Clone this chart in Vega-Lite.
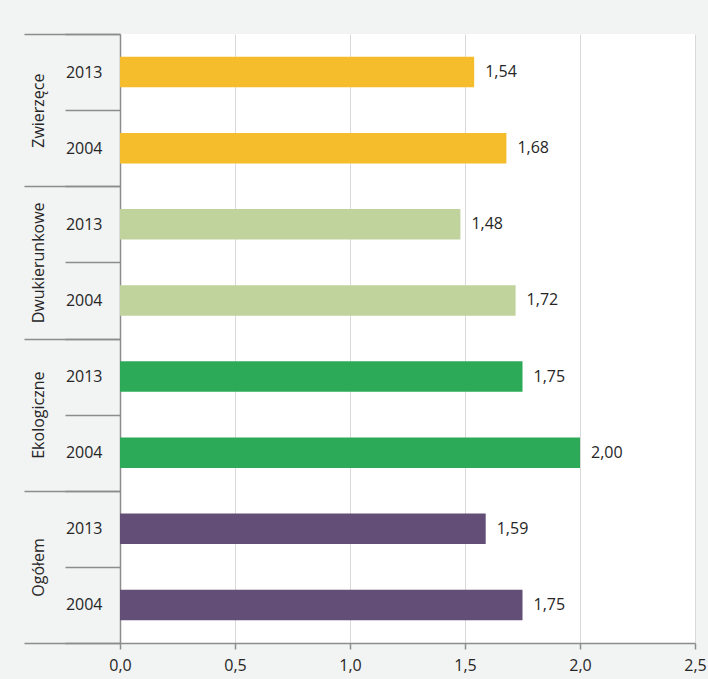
{
  "$schema": "https://vega.github.io/schema/vega-lite/v6.json",
  "width": 575,
  "height": 609,
  "autosize": {"type": "none"},
  "padding": {"left": 120, "top": 34, "right": 13, "bottom": 36},
  "background": "#f2f3f3",
  "config": {
    "locale": {"number": {"decimal": ",", "thousands": " ", "grouping": [3], "currency": ["", " zł"]}},
    "view": {"stroke": null, "fill": "#ffffff"},
    "font": "Open Sans",
    "axis": {"labelFont": "Open Sans", "labelFontSize": 16, "labelColor": "#262626", "title": null}
  },
  "data": {
    "values": [
      {"group": "Zwierzęce", "row": "Zwierzęce 2013", "value": 1.54},
      {"group": "Zwierzęce", "row": "Zwierzęce 2004", "value": 1.68},
      {"group": "Dwukierunkowe", "row": "Dwukierunkowe 2013", "value": 1.48},
      {"group": "Dwukierunkowe", "row": "Dwukierunkowe 2004", "value": 1.72},
      {"group": "Ekologiczne", "row": "Ekologiczne 2013", "value": 1.75},
      {"group": "Ekologiczne", "row": "Ekologiczne 2004", "value": 2.0},
      {"group": "Ogółem", "row": "Ogółem 2013", "value": 1.59},
      {"group": "Ogółem", "row": "Ogółem 2004", "value": 1.75}
    ]
  },
  "layer": [
    {
      "mark": {"type": "bar", "opacity": 0},
      "encoding": {
        "y": {
          "field": "group", "type": "nominal", "sort": null,
          "scale": {"type": "band", "paddingInner": 0, "paddingOuter": 0},
          "axis": {
            "orient": "left", "title": null, "tickBand": "extent", "tickSize": 96,
            "tickColor": "#8c8c8c", "tickWidth": 1.5, "domain": false, "grid": false,
            "labelAngle": -90, "labelAlign": "center", "labelBaseline": "alphabetic",
            "labelPadding": -19, "labelFontSize": 16, "labelColor": "#262626"
          }
        }
      }
    },
    {
      "layer": [
        {
          "mark": {"type": "bar", "height": {"band": 0.4}},
          "encoding": {
            "y": {
              "field": "row", "type": "nominal", "sort": null,
              "scale": {"type": "band", "paddingInner": 0, "paddingOuter": 0},
              "axis": {
                "orient": "left", "title": null, "tickBand": "extent", "tickSize": 55,
                "tickColor": "#8c8c8c", "tickWidth": 1.5, "domain": true,
                "domainColor": "#8c8c8c", "domainWidth": 1.5, "grid": false,
                "labelPadding": -37, "labelExpr": "slice(datum.label, -4)",
                "labelFontSize": 16, "labelColor": "#262626"
              }
            },
            "x": {
              "field": "value", "type": "quantitative",
              "scale": {"domain": [0, 2.5], "nice": false},
              "axis": {
                "title": null, "values": [0, 0.5, 1, 1.5, 2, 2.5], "format": ".1f",
                "grid": true, "gridColor": "#d9d9d9", "gridWidth": 1,
                "domainColor": "#8c8c8c", "domainWidth": 1.5,
                "tickColor": "#8c8c8c", "tickWidth": 1.5, "tickSize": 6,
                "labelPadding": 8, "labelFlush": false, "labelOverlap": false,
                "labelFontSize": 16, "labelColor": "#262626"
              }
            },
            "color": {
              "field": "group", "type": "nominal",
              "scale": {
                "domain": ["Zwierzęce", "Dwukierunkowe", "Ekologiczne", "Ogółem"],
                "range": ["#f5bc2b", "#c1d39d", "#2caa57", "#634e77"]
              },
              "legend": null
            }
          }
        },
        {
          "mark": {"type": "text", "align": "left", "baseline": "middle", "dx": 11, "fontSize": 16, "color": "#262626", "font": "Open Sans"},
          "encoding": {
            "y": {"field": "row", "type": "nominal", "sort": null},
            "x": {"field": "value", "type": "quantitative"},
            "text": {"field": "value", "type": "quantitative", "format": ".2f"}
          }
        }
      ]
    }
  ],
  "resolve": {"scale": {"y": "independent"}}
}
